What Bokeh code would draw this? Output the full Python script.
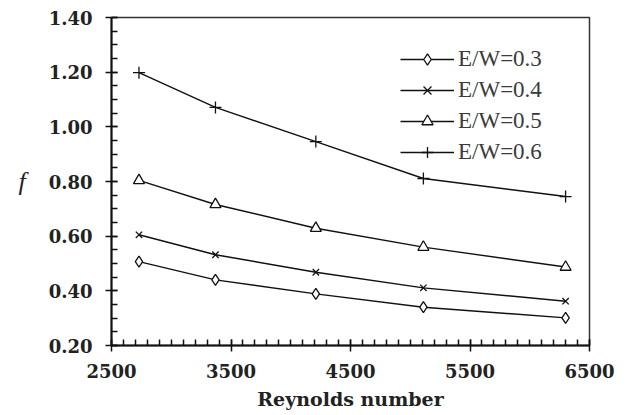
from bokeh.plotting import figure
from bokeh.models import Range1d, FixedTicker, NumeralTickFormatter, Legend
from bokeh.embed import file_html
from bokeh.resources import INLINE

# Data
reynolds = [2730, 3370, 4210, 5110, 6300]
f_ew03 = [0.507, 0.440, 0.389, 0.340, 0.301]
f_ew04 = [0.605, 0.532, 0.468, 0.411, 0.362]
f_ew05 = [0.804, 0.716, 0.629, 0.560, 0.487]
f_ew06 = [1.198, 1.071, 0.946, 0.811, 0.745]
series_labels = ["E/W=0.3", "E/W=0.4", "E/W=0.5", "E/W=0.6"]
x_ticks = [2500, 3500, 4500, 5500, 6500]
y_ticks = [0.20, 0.40, 0.60, 0.80, 1.00, 1.20, 1.40]

FONT = "Liberation Serif"
TICKFONT = "DejaVu Serif"
INK = "#111111"

p = figure(width=628, height=415, output_backend="svg", toolbar_location=None,
           x_range=Range1d(2500, 6500), y_range=Range1d(0.2, 1.4),
           min_border_left=111, min_border_right=39, min_border_top=17,
           min_border_bottom=70)
p.background_fill_color = "white"
p.border_fill_color = "white"
p.outline_line_color = "#333333"
p.outline_line_width = 1.5
p.xgrid.visible = False
p.ygrid.visible = False

p.xaxis.ticker = FixedTicker(ticks=x_ticks, minor_ticks=list(range(2500, 6501, 100)))
p.yaxis.ticker = FixedTicker(ticks=y_ticks, minor_ticks=[round(0.2 + 0.05 * i, 2) for i in range(25)])
p.xaxis.formatter = NumeralTickFormatter(format="0")
p.yaxis.formatter = NumeralTickFormatter(format="0.00")

for ax in (p.xaxis[0], p.yaxis[0]):
    ax.axis_line_color = INK
    ax.axis_line_width = 2
    ax.major_tick_line_color = INK
    ax.minor_tick_line_color = INK
    ax.major_tick_line_width = 1.5
    ax.minor_tick_line_width = 1.5
    ax.major_tick_in = 6
    ax.major_tick_out = 6
    ax.minor_tick_in = 6
    ax.minor_tick_out = 0
    ax.major_label_text_font = TICKFONT
    ax.major_label_text_font_style = "bold"
    ax.major_label_text_font_size = "18px"
    ax.major_label_text_color = "#222222"
    ax.axis_label_text_color = "#222222"

p.xaxis.major_label_standoff = 12
p.yaxis.major_label_standoff = 13
p.xaxis.axis_label = "Reynolds number"
p.xaxis.axis_label_text_font = TICKFONT
p.xaxis.axis_label_text_font_style = "bold"
p.xaxis.axis_label_text_font_size = "19px"
p.xaxis.axis_label_standoff = 7
p.yaxis.axis_label = "f"
p.yaxis.axis_label_text_font = FONT
p.yaxis.axis_label_text_font_style = "italic"
p.yaxis.axis_label_text_font_size = "26px"
p.yaxis.axis_label_orientation = "horizontal"
p.yaxis.axis_label_standoff = 20

items = []
series = [f_ew03, f_ew04, f_ew05, f_ew06]
markers = ["diamond", "x", "triangle", "cross"]
sizes = [11, 9, 11, 12]
for vals, lab, mk, sz in zip(series, series_labels, markers, sizes):
    r_line = p.line(reynolds, vals, line_color=INK, line_width=1.4)
    r_pt = p.scatter(reynolds, vals, marker=mk, size=sz, line_color=INK,
                     fill_color="white", line_width=1.3)
    items.append((lab, [r_line, r_pt]))

legend = Legend(items=items, location=(289, 179))
legend.border_line_color = None
legend.background_fill_alpha = 0
legend.padding = 0
legend.margin = 0
legend.spacing = 3
legend.glyph_width = 54
legend.glyph_height = 28
legend.label_height = 28
legend.label_standoff = 4
legend.label_text_font = FONT
legend.label_text_font_size = "23px"
legend.label_text_color = "#3a3a3a"
p.add_layout(legend)

open("out.html", "w").write(file_html(p, INLINE))
